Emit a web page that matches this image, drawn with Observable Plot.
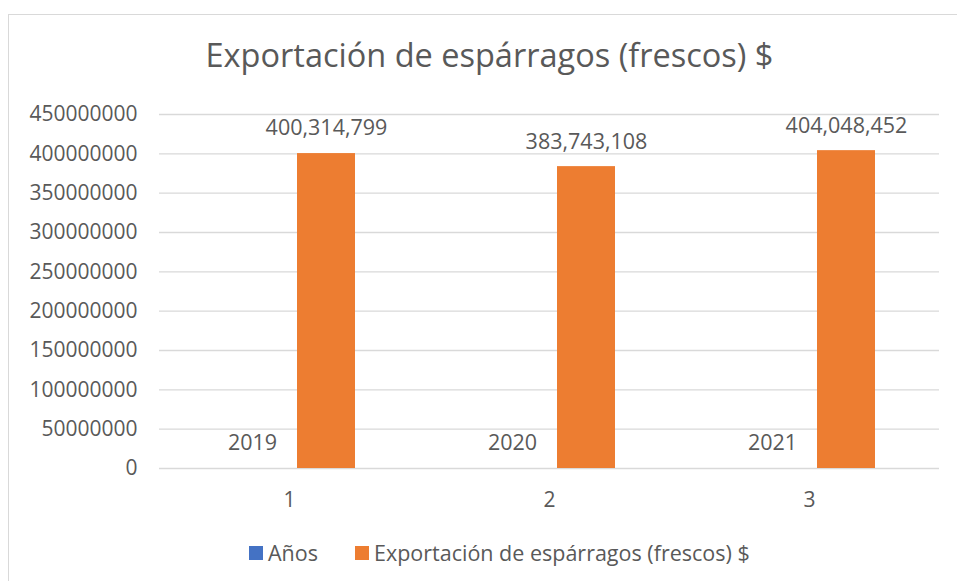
<!DOCTYPE html>
<html>
<head>
<meta charset="utf-8">
<script src="https://cdn.jsdelivr.net/npm/d3@7"></script>
<script src="https://cdn.jsdelivr.net/npm/@observablehq/plot@0.6"></script>
<style>
  html, body { margin: 0; padding: 0; background: #fff; overflow: hidden; }
  body { width: 957px; height: 581px; position: relative; font-family: "Open Sans", sans-serif; color: #595959; }
  #frame { position: absolute; left: 8px; top: 14px; width: 1000px; height: 1000px; border-left: 1.5px solid #d9d9d9; border-top: 1.5px solid #d9d9d9; }
  #title { position: absolute; left: 0; width: 979px; top: 39px; text-align: center; font-size: 32.5px; line-height: 32.5px; white-space: nowrap; }
  #chart { position: absolute; left: 0; top: 100px; }
  .leg { position: absolute; top: 541px; display: flex; align-items: center; font-size: 21.5px; line-height: 24px; white-space: nowrap; }
  .sw { width: 14px; height: 14px; margin-right: 5px; display: inline-block; }
</style>
</head>
<body>
<div id="frame"></div>
<div id="title">Exportación de espárragos (frescos) $</div>
<div id="chart"></div>
<div id="legend"></div>
<script>
const categories = [1, 2, 3];
const seriesNames = ["Años", "Exportación de espárragos (frescos) $"];
const anios = [2019, 2020, 2021];
const exportacion = [400314799, 383743108, 404048452];
const yTicks = [0, 50000000, 100000000, 150000000, 200000000, 250000000, 300000000, 350000000, 400000000, 450000000];
const colors = ["#4472C4", "#ED7D31"];
const legendLeft = [249, 355];

const fmt = d3.format(",");
const data = categories.flatMap((c, i) => [
  {cat: c, series: seriesNames[0], value: anios[i], label: String(anios[i])},
  {cat: c, series: seriesNames[1], value: exportacion[i], label: fmt(exportacion[i])}
]);

const chart = Plot.plot({
  width: 957,
  height: 420,
  marginLeft: 158,
  marginRight: 17,
  marginTop: 14,
  marginBottom: 52,
  style: {fontFamily: "Open Sans", fontSize: "21px", color: "#595959", background: "transparent", overflow: "visible"},
  fx: {domain: categories, padding: 0, label: null, axis: "bottom", tickSize: 0, tickPadding: 24},
  x: {domain: seriesNames, paddingInner: 0.213, paddingOuter: 0.84, axis: null},
  y: {domain: [0, 450000000], ticks: yTicks, tickFormat: d => String(d), tickSize: 0, tickPadding: 22, label: null},
  color: {domain: seriesNames, range: colors},
  marks: [
    Plot.ruleY(yTicks, {stroke: "#d9d9d9", strokeWidth: 1.3}),
    Plot.barY(data, {fx: "cat", x: "series", y: "value", fill: "series"}),
    Plot.text(data, {fx: "cat", x: "series", y: "value", text: "label", dy: -25, fill: "#595959", fontSize: 21.5})
  ]
});
document.getElementById("chart").appendChild(chart);

const legend = document.getElementById("legend");
seriesNames.forEach((name, i) => {
  const item = document.createElement("div");
  item.className = "leg";
  item.style.left = legendLeft[i] + "px";
  const sw = document.createElement("span");
  sw.className = "sw";
  sw.style.background = colors[i];
  const t = document.createElement("span");
  t.textContent = name;
  item.appendChild(sw);
  item.appendChild(t);
  legend.appendChild(item);
});
</script>
</body>
</html>
